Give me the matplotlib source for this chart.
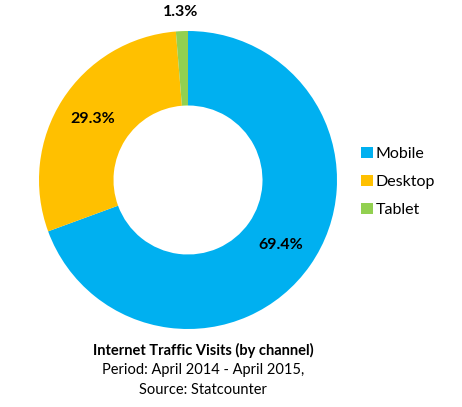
import numpy as np
import matplotlib.pyplot as plt

plt.rcParams['font.family'] = ['Lato', 'DejaVu Sans']

channels = ['Mobile', 'Desktop', 'Tablet']
shares = [69.4, 29.3, 1.3]
colors = ['#00B0F0', '#FFC000', '#92D050']
pct_labels = ['69.4%', '29.3%', '1.3%']

W, H = 462, 407
fig = plt.figure(figsize=(W / 100, H / 100), dpi=100)
# axes box in pixels around the donut
cx, cy, r = 188, 180, 149
ax = fig.add_axes([(cx - r) / W, 1 - (cy + r) / H, 2 * r / W, 2 * r / H])

wedges, _ = ax.pie(shares, colors=colors, startangle=90, counterclock=False,
                   radius=1, wedgeprops=dict(width=0.5, edgecolor='none'))
ax.set_xlim(-1, 1)
ax.set_ylim(-1, 1)
ax.set_aspect('equal')
ax.axis('off')

dists = [0.76, 0.76, 1.13]
for w, lab, d in zip(wedges, pct_labels, dists):
    ang = np.deg2rad((w.theta1 + w.theta2) / 2)
    ax.text(d * np.cos(ang), d * np.sin(ang), lab, ha='center', va='center',
            fontsize=11.5, fontweight='bold', color='black')

fig.legend(wedges, channels, loc='center left', bbox_to_anchor=(347 / W, 1 - 182 / H),
           frameon=False, fontsize=11.5, handlelength=0.7, handleheight=0.7,
           handletextpad=0.2, labelspacing=0.85)

fig.text(203 / W, 1 - 350 / H, 'Internet Traffic Visits (by channel)', ha='center', va='center',
         fontsize=10.5, fontweight='bold')
fig.text(203 / W, 1 - 370 / H, 'Period: April 2014 - April 2015,', ha='center', va='center',
         fontsize=10.5)
fig.text(203 / W, 1 - 390 / H, 'Source: Statcounter', ha='center', va='center',
         fontsize=10.5)

fig.savefig('out.png', dpi=100)
